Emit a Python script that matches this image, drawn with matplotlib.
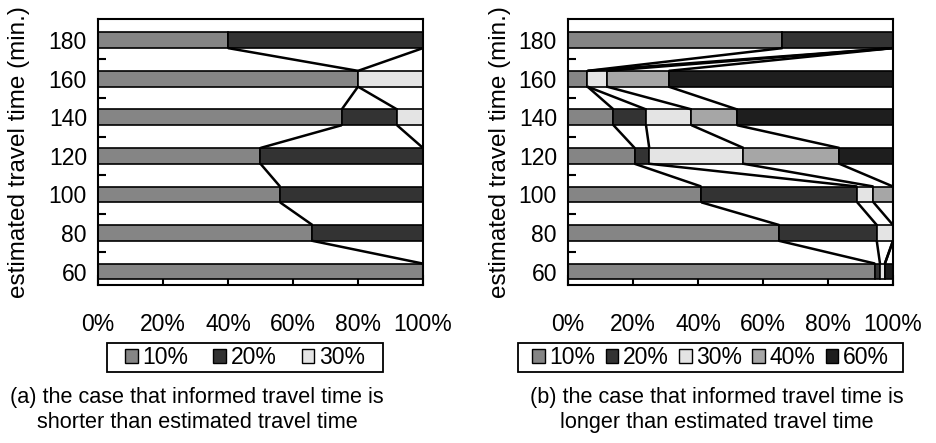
import matplotlib.pyplot as plt
import numpy as np
from matplotlib.patches import Patch, Rectangle

plt.rcParams['font.family'] = ['Liberation Sans', 'DejaVu Sans']

# estimated travel time (min.)
times = [60, 80, 100, 120, 140, 160, 180]

# (a) informed travel time shorter than estimated, share (%) per option
a_labels = ['10%', '20%', '30%']
a_10 = [100, 66, 56, 50, 75, 80, 40]
a_20 = [0, 34, 44, 50, 17, 0, 60]
a_30 = [0, 0, 0, 0, 8, 20, 0]

# (b) informed travel time longer than estimated
b_labels = ['10%', '20%', '30%', '40%', '60%']
b_10 = [94.5, 65, 41, 20.5, 14, 6, 66]
b_20 = [1.5, 30, 48, 4.5, 10, 0, 34]
b_30 = [1.5, 5, 5, 29, 14, 6, 0]
b_40 = [0, 0, 6, 29.5, 14, 19, 0]
b_60 = [2.5, 0, 0, 16.5, 48, 69, 0]

xticks = [0, 20, 40, 60, 80, 100]

fills = {'10%': '#858585', '20%': '#333333', '30%': '#e4e4e4',
         '40%': '#a6a6a6', '60%': '#1e1e1e'}

bar_h = 8.2
W, H = 937, 443
fs = 16.5


def draw_panel(ax, series, labels, ylab_x):
    left = np.zeros(len(times))
    ends = []
    for vals, lab in zip(series, labels):
        ax.barh(times, vals, height=bar_h, left=left, color=fills[lab],
                edgecolor='black', linewidth=1.2, zorder=2)
        left = left + np.array(vals)
        ends.append(left.copy())
    # series lines between neighbouring bars
    for cum in ends:
        for i in range(len(times) - 1):
            ax.plot([cum[i + 1], cum[i]],
                    [times[i + 1] - bar_h / 2, times[i] + bar_h / 2],
                    color='black', lw=1.8, zorder=3, solid_capstyle='butt')

    ax.set_xlim(0, 100)
    ax.set_ylim(53, 191)
    ax.set_xticks(xticks)
    ax.set_xticklabels([f'{t}%' for t in xticks])
    ax.set_yticks(times)
    ax.set_yticks([70, 90, 110, 130, 150, 170], minor=True)
    ax.tick_params(axis='x', direction='in', length=7, width=1.5,
                   pad=20, labelsize=fs)
    ax.tick_params(axis='y', which='major', length=0, pad=8, labelsize=fs)
    ax.tick_params(axis='y', which='minor', direction='in', length=6, width=1.5)
    for s in ax.spines.values():
        s.set_linewidth(1.5)
    ax.set_ylabel('estimated travel time (min.)', fontsize=17.5)
    ax.yaxis.set_label_coords(ylab_x, 0.5)


def add_legend(fig, labels, box, colsp):
    x0, x1, y0, y1 = box
    handles = [Patch(facecolor=fills[l], edgecolor='black', linewidth=1.0, label=l)
               for l in labels]
    fig.legend(handles=handles, loc='center',
               bbox_to_anchor=((x0 + x1) / 2 / W, 1 - (y0 + y1) / 2 / H),
               ncol=len(labels), fontsize=fs, frameon=False,
               handlelength=0.55, handleheight=0.55, handletextpad=0.2,
               columnspacing=colsp, borderpad=0, borderaxespad=0)
    fig.add_artist(Rectangle((x0 / W, 1 - y1 / H), (x1 - x0) / W, (y1 - y0) / H,
                             transform=fig.transFigure, fill=False,
                             edgecolor='black', linewidth=1.3))


fig = plt.figure(figsize=(W / 100, H / 100), dpi=100)
ax_a = fig.add_axes([98 / W, 1 - 285 / H, 325 / W, 266 / H])
ax_b = fig.add_axes([568 / W, 1 - 285 / H, 325 / W, 266 / H])

draw_panel(ax_a, [a_10, a_20, a_30], a_labels, (30 - 98) / 325)
draw_panel(ax_b, [b_10, b_20, b_30, b_40, b_60], b_labels, (511 - 568) / 325)

add_legend(fig, a_labels, (107, 383, 343, 372), 1.1)
add_legend(fig, b_labels, (518, 903, 343, 372), 0.45)

fig.text(197 / W, 1 - 410 / H,
         '(a) the case that informed travel time is\nshorter than estimated travel time',
         ha='center', va='center', fontsize=15.6, linespacing=1.25)
fig.text(717 / W, 1 - 410 / H,
         '(b) the case that informed travel time is\nlonger than estimated travel time',
         ha='center', va='center', fontsize=15.6, linespacing=1.25)

fig.savefig('out.png', dpi=100)
